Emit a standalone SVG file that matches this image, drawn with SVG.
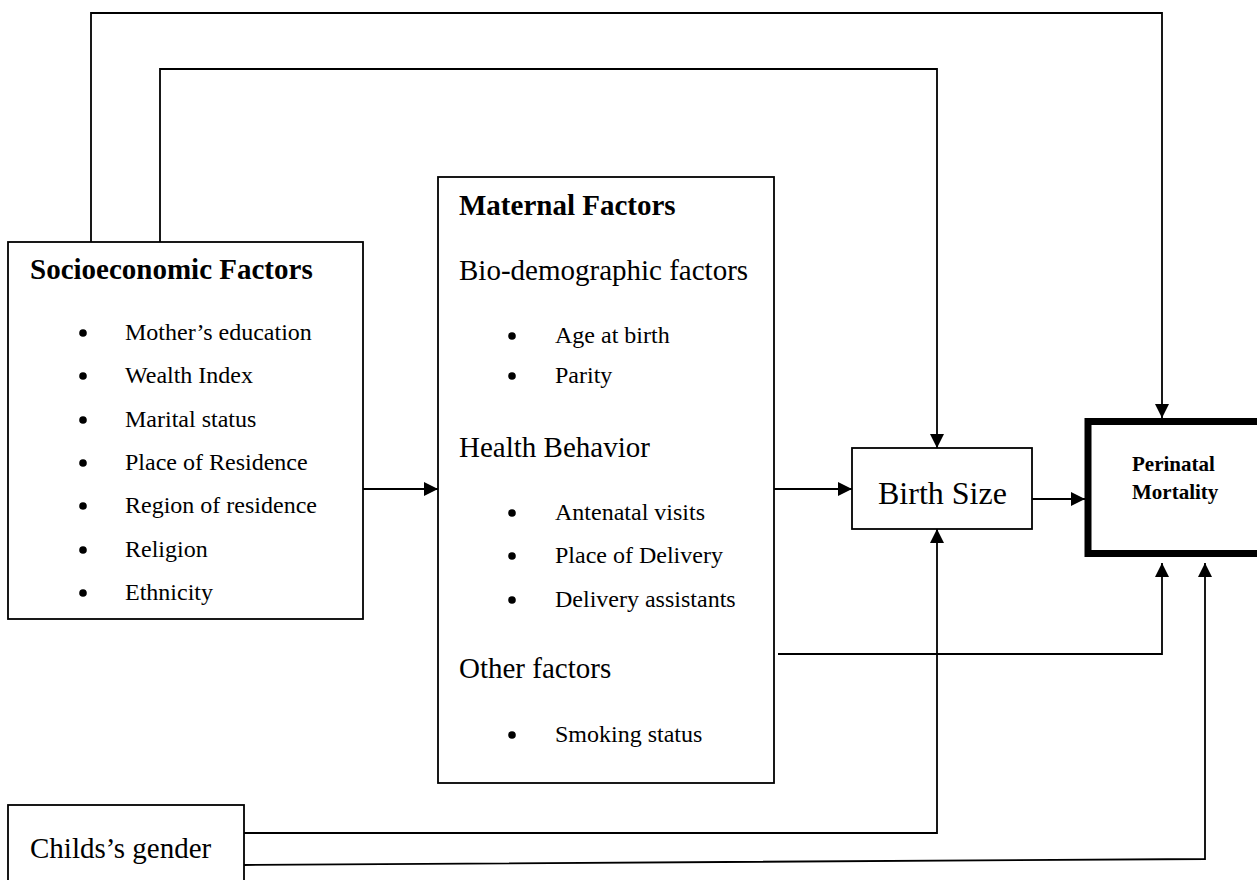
<svg xmlns="http://www.w3.org/2000/svg" width="1257" height="880" viewBox="0 0 1257 880">
  <style>
    text { font-family: "Liberation Serif", "Times New Roman", serif; fill: #000; }
    .box { fill: #fff; stroke: #000; stroke-width: 1.8; }
    .thick { fill: #fff; stroke: #000; stroke-width: 7; }
    .conn { fill: none; stroke: #000; stroke-width: 1.8; }
    .title { font-size: 29px; font-weight: bold; }
    .head { font-size: 29px; }
    .item { font-size: 24px; }
    .dot { fill: #000; }
  </style>
  <defs>
    <marker id="arrow" markerUnits="userSpaceOnUse" markerWidth="15" markerHeight="15" refX="14" refY="7" orient="auto">
      <path d="M0,0 L14,7 L0,14 z" fill="#000"/>
    </marker>
  </defs>

  <g id="connectors">
    <path class="conn" d="M91,242 V13 H1162 V418" marker-end="url(#arrow)"/>
    <path class="conn" d="M160,242 V69 H937 V448" marker-end="url(#arrow)"/>
    <path class="conn" d="M363,489 H438" marker-end="url(#arrow)"/>
    <path class="conn" d="M774,489 H852" marker-end="url(#arrow)"/>
    <path class="conn" d="M1032,499 H1085" marker-end="url(#arrow)"/>
    <path class="conn" d="M778,654 H1162 V563" marker-end="url(#arrow)"/>
    <path class="conn" d="M244,833 H937 V529" marker-end="url(#arrow)"/>
    <path class="conn" d="M244,865 L1205,859 V563" marker-end="url(#arrow)"/>
  </g>

  <g id="socioeconomic">
    <rect class="box" x="8" y="242" width="355" height="377"/>
    <text class="title" x="30" y="279">Socioeconomic Factors</text>
    <circle class="dot" cx="83" cy="333" r="3.8"/>
    <text class="item" x="125" y="340">Mother’s education</text>
    <circle class="dot" cx="83" cy="376" r="3.8"/>
    <text class="item" x="125" y="383">Wealth Index</text>
    <circle class="dot" cx="83" cy="420" r="3.8"/>
    <text class="item" x="125" y="427">Marital status</text>
    <circle class="dot" cx="83" cy="463" r="3.8"/>
    <text class="item" x="125" y="470">Place of Residence</text>
    <circle class="dot" cx="83" cy="506" r="3.8"/>
    <text class="item" x="125" y="513">Region of residence</text>
    <circle class="dot" cx="83" cy="550" r="3.8"/>
    <text class="item" x="125" y="557">Religion</text>
    <circle class="dot" cx="83" cy="593" r="3.8"/>
    <text class="item" x="125" y="600">Ethnicity</text>
  </g>

  <g id="maternal">
    <rect class="box" x="438" y="177" width="336" height="606"/>
    <text class="title" x="459" y="215">Maternal Factors</text>
    <text class="head" x="459" y="280">Bio-demographic factors</text>
    <circle class="dot" cx="512" cy="336" r="3.8"/>
    <text class="item" x="555" y="343">Age at birth</text>
    <circle class="dot" cx="512" cy="376" r="3.8"/>
    <text class="item" x="555" y="383">Parity</text>
    <text class="head" x="459" y="457">Health Behavior</text>
    <circle class="dot" cx="512" cy="513" r="3.8"/>
    <text class="item" x="555" y="520">Antenatal visits</text>
    <circle class="dot" cx="512" cy="556" r="3.8"/>
    <text class="item" x="555" y="563">Place of Delivery</text>
    <circle class="dot" cx="512" cy="600" r="3.8"/>
    <text class="item" x="555" y="607">Delivery assistants</text>
    <text class="head" x="459" y="678">Other factors</text>
    <circle class="dot" cx="512" cy="735" r="3.8"/>
    <text class="item" x="555" y="742">Smoking status</text>
  </g>

  <g id="birth-size">
    <rect class="box" x="852" y="448" width="180" height="81"/>
    <text x="878" y="504" style="font-size:32px">Birth Size</text>
  </g>

  <g id="perinatal">
    <rect class="thick" x="1088" y="421.5" width="200" height="132"/>
    <text x="1132" y="471" style="font-size:21px;font-weight:bold">Perinatal</text>
    <text x="1132" y="499" style="font-size:21px;font-weight:bold">Mortality</text>
  </g>

  <g id="child-gender">
    <rect class="box" x="8" y="805" width="236" height="100"/>
    <text class="head" x="30" y="858">Childs’s gender</text>
  </g>
</svg>
